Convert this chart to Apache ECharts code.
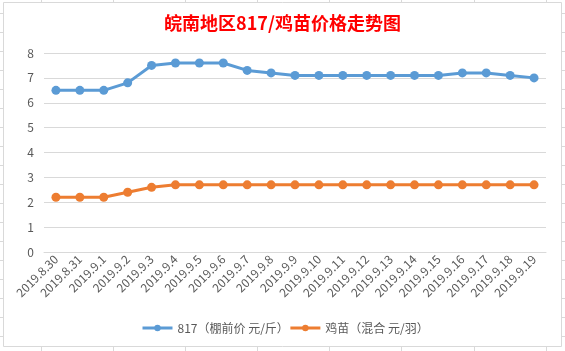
<!DOCTYPE html>
<html><head><meta charset="utf-8">
<script src="https://cdn.jsdelivr.net/npm/echarts@6/dist/echarts.min.js"></script>
<style>html,body{margin:0;padding:0;background:#fff}#c{width:565px;height:351px}</style>
</head><body><div id="c"></div>
<script>
var categories = ['2019.8.30','2019.8.31','2019.9.1','2019.9.2','2019.9.3','2019.9.4','2019.9.5','2019.9.6','2019.9.7','2019.9.8','2019.9.9','2019.9.10','2019.9.11','2019.9.12','2019.9.13','2019.9.14','2019.9.15','2019.9.16','2019.9.17','2019.9.18','2019.9.19'];
var price817 = [6.5,6.5,6.5,6.8,7.5,7.6,7.6,7.6,7.3,7.2,7.1,7.1,7.1,7.1,7.1,7.1,7.1,7.2,7.2,7.1,7.0];
var chickPrice = [2.2,2.2,2.2,2.4,2.6,2.7,2.7,2.7,2.7,2.7,2.7,2.7,2.7,2.7,2.7,2.7,2.7,2.7,2.7,2.7,2.7];
var seriesNames = ['817（棚前价 元/斤）','鸡苗（混合 元/羽）'];
var titleText = '皖南地区817/鸡苗价格走势图';

var chart = echarts.init(document.getElementById('c'));
var font = '"Microsoft YaHei","Noto Sans CJK SC",sans-serif';
var gfx = [{type:'rect',shape:{x:3.5,y:2.5,width:558,height:344},style:{fill:'none',stroke:'#d9d9d9',lineWidth:1},silent:true}];
[13,32,51,70,89,108,127,146,165,184,203,222,241,260,279,298,317,336].forEach(function(y){
  gfx.push({type:'line',shape:{x1:0,y1:y+0.5,x2:3,y2:y+0.5},style:{stroke:'#d9d9d9',lineWidth:1},silent:true});
  gfx.push({type:'line',shape:{x1:562,y1:y+0.5,x2:565,y2:y+0.5},style:{stroke:'#d9d9d9',lineWidth:1},silent:true});
});
[41,113,185,257,329,401,474,546].forEach(function(x){
  gfx.push({type:'line',shape:{x1:x+0.5,y1:0,x2:x+0.5,y2:2},style:{stroke:'#d9d9d9',lineWidth:1},silent:true});
  gfx.push({type:'line',shape:{x1:x+0.5,y1:347,x2:x+0.5,y2:351},style:{stroke:'#d9d9d9',lineWidth:1},silent:true});
});
chart.setOption({
  animation:false,
  backgroundColor:'#fff',
  graphic:gfx,
  title:{text:titleText,left:'center',top:9,textStyle:{color:'#ff0000',fontSize:18,fontWeight:'bold',fontFamily:font}},
  legend:{bottom:12,left:136,itemWidth:30,itemHeight:8,itemGap:0,
    lineStyle:{width:3},
    textStyle:{color:'#595959',fontSize:12,fontFamily:font},data:seriesNames},
  grid:{left:44,right:19,top:53,bottom:99},
  xAxis:{type:'category',data:categories,boundaryGap:true,
    axisLine:{lineStyle:{color:'#d9d9d9'}},axisTick:{show:false},
    axisLabel:{rotate:45,color:'#595959',fontSize:12,interval:0,margin:5,fontFamily:font}},
  yAxis:{type:'value',min:0,max:8,interval:1,
    axisLine:{show:false},axisTick:{show:false},
    splitLine:{lineStyle:{color:'#d9d9d9'}},
    axisLabel:{color:'#595959',fontSize:12,margin:10,fontFamily:font}},
  series:[
    {name:seriesNames[0],type:'line',data:price817,symbol:'circle',symbolSize:9,
      lineStyle:{width:3,color:'#5B9BD5'},itemStyle:{color:'#5B9BD5'}},
    {name:seriesNames[1],type:'line',data:chickPrice,symbol:'circle',symbolSize:9,
      lineStyle:{width:3,color:'#ED7D31'},itemStyle:{color:'#ED7D31'}}
  ]
});
</script></body></html>
